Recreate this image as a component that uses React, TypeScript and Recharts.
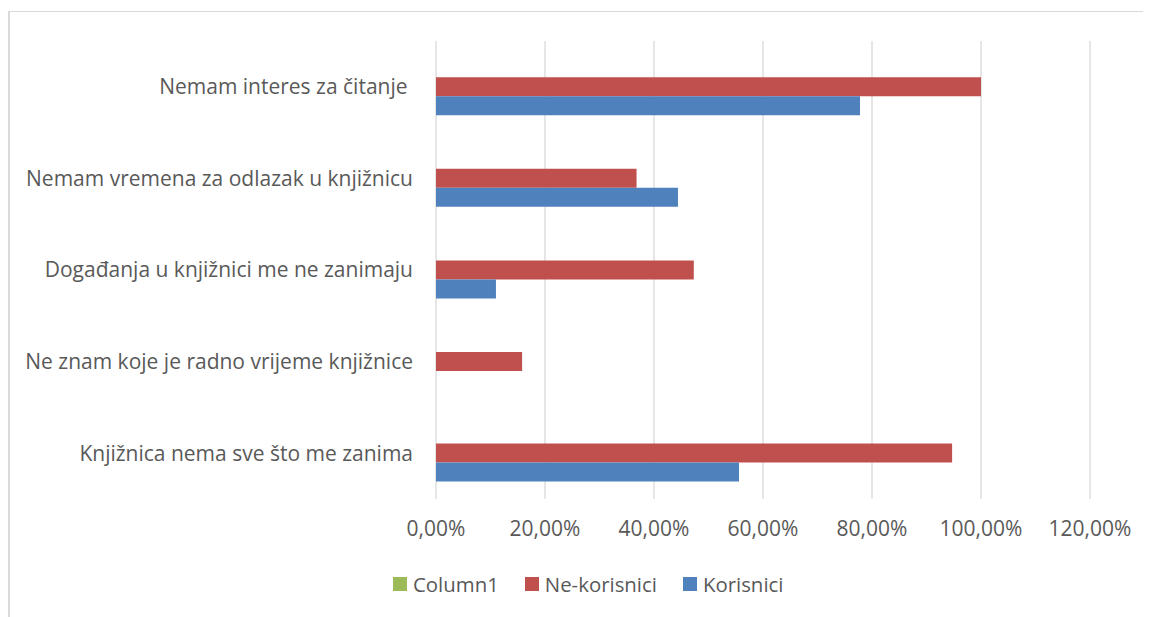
import React from 'react';
import { BarChart, Bar, XAxis, YAxis, CartesianGrid, Legend } from 'recharts';

const categories = [
  'Nemam interes za čitanje\u00A0',
  'Nemam vremena za odlazak u knjižnicu',
  'Događanja u knjižnici me ne zanimaju',
  'Ne znam koje je radno vrijeme knjižnice',
  'Knjižnica nema sve što me zanima',
];
const column1: (number | null)[] = [null, null, null, null, null];
const neKorisnici = [1.0, 0.368, 0.473, 0.158, 0.947];
const korisnici = [0.778, 0.444, 0.11, 0, 0.556];
const xTicks = [0, 0.2, 0.4, 0.6, 0.8, 1.0, 1.2];

const seriesNames = ['Column1', 'Ne-korisnici', 'Korisnici'];
const seriesColors = ['#9BBB59', '#C0504D', '#4F81BD'];

const data = categories.map((name, i) => ({
  name,
  Column1: column1[i],
  'Ne-korisnici': neKorisnici[i],
  Korisnici: korisnici[i],
}));

const FONT = "'Open Sans', sans-serif";
const TEXT = '#595959';
const FS = 21;

const fmt = (v: number) => (v * 100).toFixed(2).replace('.', ',') + '%';

const LegendContent = () => (
  <div style={{ display: 'flex', alignItems: 'center', fontFamily: FONT, fontSize: 20.4, color: TEXT, whiteSpace: 'nowrap' }}>
    {seriesNames.map((n, i) => (
      <div key={n} style={{ display: 'flex', alignItems: 'center', marginRight: i < 2 ? 26 : 0 }}>
        <div style={{ width: 14, height: 14, background: seriesColors[i], marginRight: 6 }} />
        <span style={{ lineHeight: '20px' }}>{n}</span>
      </div>
    ))}
  </div>
);

export default function App() {
  return (
    <>
      <style>{'html,body{overflow:hidden;}'}</style>
      <div style={{ position: 'relative', width: 1250, height: 700, background: '#fff' }}>
        <div
          style={{
            position: 'absolute',
            left: 0,
            top: 3,
            right: 0,
            bottom: 0,
            borderTop: '1px solid #d9d9d9',
            borderLeft: '2px solid #d9d9d9',
          }}
        />
        <div style={{ position: 'absolute', left: 0, top: 0 }}>
          <BarChart
            width={1135}
            height={601}
            data={data}
            layout="vertical"
            margin={{ top: 33, right: 53, left: 0, bottom: 70 }}
            barCategoryGap="18.75%"
            barGap={0}
          >
            <CartesianGrid horizontal={false} stroke="#d9d9d9" strokeWidth={1.3} />
            <XAxis
              type="number"
              domain={[0, 1.2]}
              ticks={xTicks}
              tickFormatter={fmt}
              axisLine={false}
              tickLine={false}
              tickSize={0}
              tickMargin={22}
              height={40}
              tick={{ fill: TEXT, fontSize: FS, fontFamily: FONT }}
            />
            <YAxis
              type="category"
              dataKey="name"
              width={428}
              axisLine={false}
              tickLine={false}
              tickSize={0}
              tickMargin={23}
              interval={0}
              tick={{ fill: TEXT, fontSize: FS, fontFamily: FONT }}
            />
            <Legend
              layout="horizontal"
              verticalAlign="middle"
              align="center"
              content={<LegendContent />}
              wrapperStyle={{ position: 'absolute', left: 385, top: 566, width: 'auto' }}
            />
            {seriesNames.map((n, i) => (
              <Bar key={n} dataKey={n} fill={seriesColors[i]} isAnimationActive={false} />
            ))}
          </BarChart>
        </div>
      </div>
    </>
  );
}
